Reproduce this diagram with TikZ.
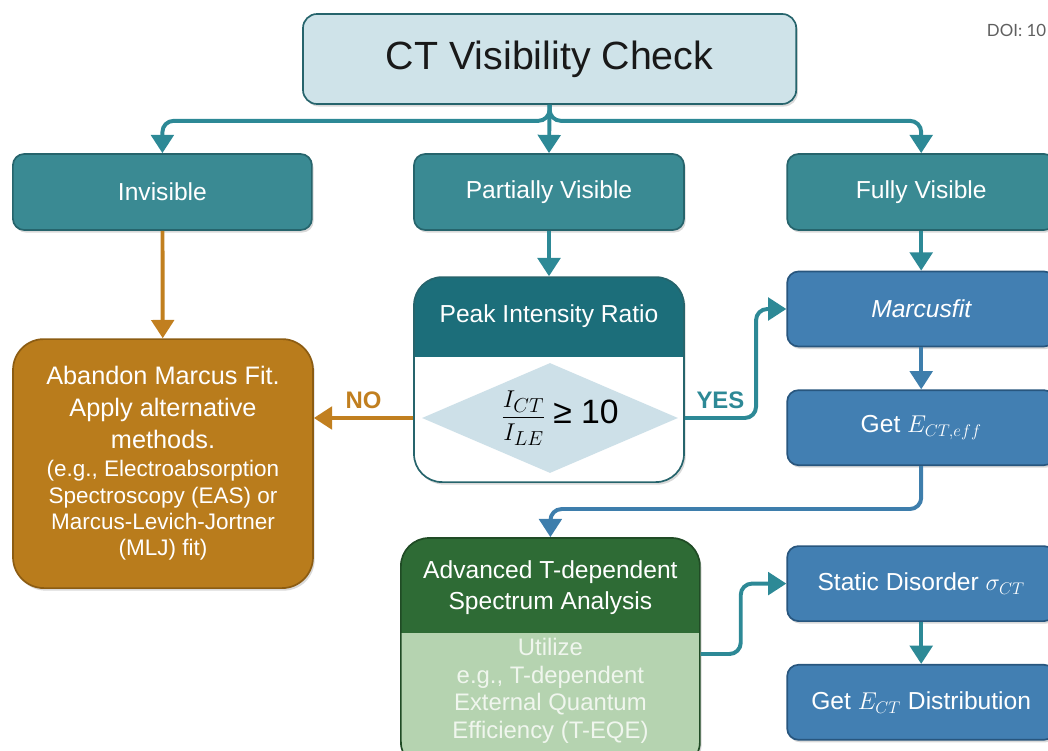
\documentclass[tikz,border=0pt]{standalone}
\usepackage{fontspec}
\setmainfont{Liberation Sans}
\newfontfamily\doifont{Lato}
\usetikzlibrary{shapes.geometric, arrows.meta, positioning, calc, shadows}
\definecolor{tealbox}{RGB}{58,138,147}
\definecolor{tealedge}{RGB}{38,100,108}
\definecolor{titlefill}{RGB}{207,227,233}
\definecolor{hdrteal}{RGB}{28,110,122}
\definecolor{ratiofill}{RGB}{205,224,232}
\definecolor{amber}{RGB}{185,124,28}
\definecolor{amberedge}{RGB}{140,92,18}
\definecolor{amberline}{RGB}{193,127,31}
\definecolor{steelblue}{RGB}{66,127,178}
\definecolor{steeledge}{RGB}{40,86,126}
\definecolor{forest}{RGB}{46,107,53}
\definecolor{sage}{RGB}{181,211,176}
\definecolor{sagetext}{RGB}{240,246,238}
\definecolor{tealline}{RGB}{45,137,150}
\definecolor{blueline}{RGB}{62,126,172}
\definecolor{doigray}{RGB}{95,95,95}

\begin{document}
\begin{tikzpicture}[
        node distance=1cm,
        softshadow/.style={drop shadow={shadow xshift=1.2pt, shadow yshift=-1.8pt, opacity=0.3}},
        titlebox/.style={rectangle, draw=tealedge, line width=1.2pt, fill=titlefill, rounded corners=10pt, minimum width=12.33cm, minimum height=2.25cm, text=black!90, font=\fontsize{28}{33}\selectfont, softshadow},
        topbox/.style={rectangle, draw=tealedge, line width=1.2pt, fill=tealbox, rounded corners=8pt, minimum height=1.9cm, text=white, font=\fontsize{17.5}{21}\selectfont, softshadow},
        bluebox/.style={rectangle, draw=steeledge, line width=1.2pt, fill=steelblue, rounded corners=8pt, minimum width=6.7cm, minimum height=1.875cm, text=white, font=\fontsize{17.5}{21}\selectfont, softshadow},
        splitbox/.style 2 args={rectangle, draw=tealedge, line width=1.2pt, rounded corners=20pt, softshadow,
            path picture={\fill[#1, sharp corners] (path picture bounding box.north west) rectangle ([yshift=-#2]path picture bounding box.north east);}},
        boxtext/.style={align=center, text=white, font=\fontsize{17.5}{22}\selectfont},
        flow/.style={line width=2.8pt, rounded corners=8pt, -{Triangle[length=13pt,width=16pt]}},
        answer/.style={font=\bfseries\fontsize{17}{20}\selectfont, inner sep=5pt}
    ]
        \useasboundingbox (0,0) rectangle (26.2,-18.775);

        % top of the tree
        \node[titlebox] (title) at (13.74,-1.475) {CT Visibility Check};
        \node[topbox, minimum width=7.475cm] (invis) at (4.06,-4.8) {Invisible};
        \node[topbox, minimum width=6.75cm] (partial) at (13.725,-4.8) {Partially Visible};
        \node[topbox, minimum width=6.7cm] (fully) at (23.03,-4.8) {Fully Visible};
        \node[anchor=west, text=doigray, font=\doifont\fontsize{12}{14}\selectfont] (doi) at (24.55,-0.75) {DOI: 10};

        % left branch
        \node[rectangle, draw=amberedge, line width=1.2pt, fill=amber, rounded corners=22pt, minimum width=7.5cm, minimum height=6.225cm, text=white, softshadow] (abandon) at (4.075,-11.59)
            {\parbox{7cm}{\centering
             \fontsize{18}{22.5}\selectfont Abandon Marcus Fit.\\ Apply alternative\\ methods.\par
             \fontsize{16}{18.8}\selectfont\vspace{1.5pt}(e.g., Electroabsorption\\ Spectroscopy (EAS) or\\ Marcus-Levich-Jortner\\ (MLJ) fit)\par}};

        % middle branch
        \node[splitbox={hdrteal}{2cm}, fill=white, minimum width=6.75cm, minimum height=5.125cm] (peak) at (13.725,-9.49) {};
        \node[boxtext] (peakhead) at ($(peak.north)+(0,-1.0)$) {Peak Intensity Ratio};
        \node[diamond, fill=ratiofill, minimum width=6.4cm, minimum height=2.75cm, inner sep=0pt] (ratio) at (13.75,-10.45) {};
        \node[text=black, font=\fontsize{24}{28}\selectfont] (ratiolabel) at (14.0,-10.45)
            {\fontsize{19}{23}\selectfont$\displaystyle\frac{I_{CT}}{I_{LE}}$ \fontsize{24}{28}\selectfont≥ 10};

        % right branch
        \node[bluebox] (marcus) at (23.03,-7.725) {\itshape Marcusfit};
        \node[bluebox, below=1.05cm of marcus] (geteff) {Get $E_{CT,eff}$};

        % bottom
        \node[splitbox={forest}{2.375cm}, draw=forest!70!black, fill=sage, minimum width=7.475cm, minimum height=5.8cm] (advanced) at (13.76,-16.35) {};
        \node[boxtext] (advhead) at ($(advanced.north)+(0,-1.26)$) {Advanced T-dependent\\ Spectrum Analysis};
        \node[boxtext, text=sagetext, font=\fontsize{17}{19.6}\selectfont] (advbody) at ($(advanced.north)+(0,-3.84)$)
            {Utilize\\ e.g., T-dependent\\ External Quantum\\ Efficiency (T-EQE)};
        \node[bluebox] (static) at (23.03,-14.59) {Static Disorder $\sigma_{CT}$};
        \node[bluebox, below=1.05cm of static] (getdist) {Get $E_{CT}$ Distribution};

        % connectors
        \coordinate (fork) at ($(title.south)+(0,-0.4)$);
        \draw[flow, tealline] (title.south) -- (fork) -| (invis.north);
        \draw[flow, tealline] (title.south) -- (fork) -| (fully.north);
        \draw[flow, tealline] (title.south) -- (partial.north);
        \draw[flow, amberline] (invis) -- (abandon);
        \draw[flow, tealline] (partial) -- (peak);
        \draw[flow, tealline] (fully) -- (marcus);
        \draw[flow, amberline] (ratio.west -| peak.west) -- node[answer, above, text=amberline] {NO} (ratio.west -| abandon.east);
        \draw[flow, tealline] (ratio.east -| peak.east) -- node[answer, above, text=tealline] {YES} ++(1.78,0) |- (marcus.west);
        \draw[flow, blueline] (marcus) -- (geteff);
        \draw[flow, blueline] (geteff.south) -- ++(0,-1.075) -| (advanced.north);
        \draw[flow, tealline] (advanced.east) -- ++(1.0,0) |- (static.west);
        \draw[flow, tealline] (static) -- (getdist);
    \end{tikzpicture}
\end{document}
